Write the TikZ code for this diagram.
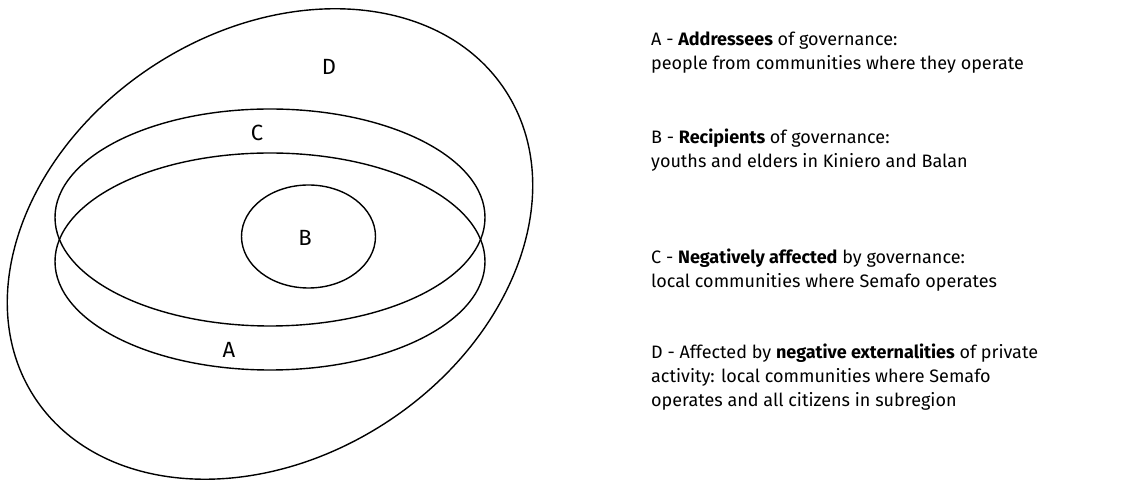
\documentclass[tikz,border=0pt]{standalone}
\usepackage{fontspec}
\setmainfont{Fira Sans}
\begin{document}
\begin{tikzpicture}[x=1pt, y=1pt,
    setline/.style={line width=1.4pt},
    setlabel/.style={inner sep=0pt, font=\fontsize{22}{26}\selectfont},
    keytext/.style={anchor=north west, align=left, inner sep=0pt, font=\fontsize{18}{24}\selectfont}]
    \useasboundingbox (0,0) rectangle (1122,481);

    % D: the large tilted ellipse
    \draw[setline, rotate around={33:(270,237)}] (270,237) ellipse [x radius=281pt, y radius=213pt];

    % C and A: two flat ellipses, shifted vertically
    \draw[setline] (270,263.5) ellipse [x radius=215pt, y radius=108.5pt];
    \draw[setline] (270,219.5) ellipse [x radius=215pt, y radius=108.5pt];

    % B: the small ellipse in the middle
    \draw[setline] (308.5,244.5) ellipse [x radius=67pt, y radius=51.5pt];

    % labels of the sets
    \node[setlabel] (labelD) at (329,414) {D};
    \node[setlabel] (labelC) at (257,348) {C};
    \node[setlabel] (labelB) at (305,243) {B};
    \node[setlabel] (labelA) at (229,131) {A};

    % key on the right
    \node[keytext] (keyA) at (651,449) {A - \textbf{Addressees} of governance:\\people from communities where they operate};
    \node[keytext] (keyB) at (651,352) {B - \textbf{Recipients} of governance:\\youths and elders in Kiniero and Balan};
    \node[keytext] (keyC) at (651,232) {C - \textbf{Negatively affected} by governance:\\local communities where Semafo operates};
    \node[keytext] (keyD) at (651,137) {D - Affected by \textbf{negative externalities} of private\\activity: local communities where Semafo\\operates and all citizens in subregion};
\end{tikzpicture}
\end{document}
